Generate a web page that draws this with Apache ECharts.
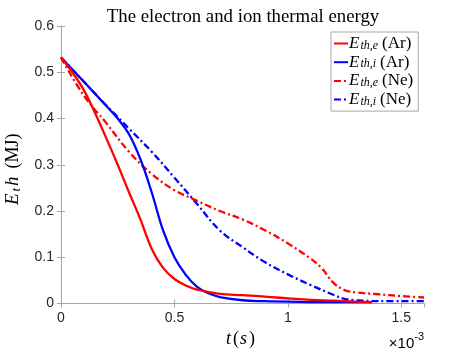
<!DOCTYPE html>
<html>
<head>
<meta charset="utf-8">
<script src="https://cdn.jsdelivr.net/npm/echarts@6/dist/echarts.min.js"></script>
<style>
  html, body { margin: 0; padding: 0; background: #fff; }
  #chart { width: 469px; height: 352px; }
</style>
</head>
<body>
<div id="chart"></div>
<script>
  // time in units of 1e-3 s, energy in MJ
  var arElectron = [[0,0.532],[0.05,0.5],[0.1,0.462],[0.15,0.412],[0.2,0.357],[0.25,0.3],[0.3,0.24],[0.35,0.182],[0.4,0.118],[0.45,0.077],[0.5,0.053],[0.55,0.039],[0.6,0.03],[0.7,0.021],[0.8,0.018],[0.9,0.015],[1.0,0.011],[1.1,0.008],[1.2,0.006],[1.3,0.004],[1.37,0.003]];
  var arIon = [[0,0.532],[0.1,0.48],[0.2,0.427],[0.25,0.4],[0.3,0.366],[0.35,0.312],[0.4,0.24],[0.45,0.158],[0.5,0.1],[0.55,0.062],[0.6,0.036],[0.65,0.022],[0.7,0.014],[0.8,0.007],[0.9,0.005],[1.0,0.004],[1.2,0.003],[1.37,0.003]];
  var neElectron = [[0,0.532],[0.1,0.45],[0.2,0.39],[0.3,0.328],[0.4,0.28],[0.5,0.245],[0.6,0.222],[0.7,0.2],[0.8,0.182],[0.9,0.158],[1.0,0.13],[1.1,0.097],[1.15,0.076],[1.2,0.045],[1.25,0.029],[1.3,0.024],[1.4,0.02],[1.5,0.016],[1.6,0.013]];
  var neIon = [[0,0.532],[0.1,0.48],[0.2,0.428],[0.3,0.378],[0.4,0.328],[0.5,0.272],[0.6,0.215],[0.7,0.158],[0.8,0.122],[0.9,0.089],[1.0,0.063],[1.1,0.04],[1.2,0.019],[1.25,0.01],[1.3,0.007],[1.4,0.005],[1.6,0.005]];

  var seriesNames = ['Eth,e (Ar)', 'Eth,i (Ar)', 'Eth,e (Ne)', 'Eth,i (Ne)'];
  var seriesSubs = ['th,e', 'th,i', 'th,e', 'th,i'];
  var seriesGas = ['Ar', 'Ar', 'Ne', 'Ne'];
  var seriesData = [arElectron, arIon, neElectron, neIon];
  var colors = ['#ff0000', '#0000ff', '#ff0000', '#0000ff'];
  var dashDot = [7, 3, 2, 3];
  var lineTypes = ['solid', 'solid', dashDot, dashDot];

  var mathFont = '"Liberation Serif", serif';
  var axisColor = '#a6a6a6';
  var labelColor = '#262626';

  var rich = {
    i: { fontFamily: mathFont, fontStyle: 'italic', fontSize: 17, color: '#000', lineHeight: 16, verticalAlign: 'middle' },
    s: { fontFamily: mathFont, fontStyle: 'italic', fontSize: 12, color: '#000', lineHeight: 16, verticalAlign: 'bottom', padding: [0, 4, 0, 1] },
    n: { fontFamily: mathFont, fontSize: 17, color: '#000', lineHeight: 16, verticalAlign: 'middle' }
  };

  var myChart = echarts.init(document.getElementById('chart'));

  var series = seriesData.map(function (d, k) {
    return {
      name: seriesNames[k],
      type: 'line',
      data: d,
      smooth: 0.4,
      showSymbol: false,
      symbol: 'none',
      color: colors[k],
      lineStyle: { width: 2.3, type: lineTypes[k], color: colors[k] },
      z: 10 - k
    };
  });

  var option = {
    animation: false,
    title: {
      text: 'The electron and ion thermal energy',
      left: 238, top: 3, textAlign: 'center',
      textStyle: { fontFamily: mathFont, fontWeight: 'normal', fontSize: 18.8, color: '#000' }
    },
    legend: {
      data: seriesNames,
      orient: 'vertical',
      left: 331, top: 32,
      backgroundColor: '#fff',
      borderColor: axisColor, borderWidth: 1,
      padding: [3, 5, 3, 2],
      itemWidth: 14, itemHeight: 14, itemGap: 1.7,
      itemStyle: { opacity: 0 },
      formatter: function (name) {
        var k = seriesNames.indexOf(name);
        return '{i|E}{s|' + seriesSubs[k] + '}{n|(' + seriesGas[k] + ')}';
      },
      textStyle: { rich: rich, padding: [0, 0, 0, -4] }
    },
    grid: { left: 61, right: 45, top: 26, bottom: 48.5, outerBoundsMode: 'none' },
    xAxis: [
      {
        type: 'value', min: 0, max: 1.6, interval: 0.5,
        name: '{i|t}{n|(}{i|s}{n|)}', nameLocation: 'middle', nameGap: 27,
        nameTextStyle: { rich: {
          i: { fontFamily: mathFont, fontStyle: 'italic', fontSize: 18, color: '#000', padding: [0, 2, 0, 1] },
          n: { fontFamily: mathFont, fontSize: 18, color: '#000' }
        }, padding: [0, 5, 0, 0] },
        axisLine: { lineStyle: { color: axisColor } },
        axisTick: { inside: true, length: 4, lineStyle: { color: axisColor } },
        axisLabel: { color: labelColor, fontSize: 14, fontFamily: 'Liberation Sans', margin: 8, showMaxLabel: false },
        splitLine: { show: false }
      },
      {
        type: 'value', min: 0, max: 1.6, interval: 0.5, position: 'top',
        axisLine: { lineStyle: { color: axisColor } },
        axisTick: { inside: true, length: 4, lineStyle: { color: axisColor } },
        axisLabel: { show: false },
        splitLine: { show: false }
      }
    ],
    yAxis: [
      {
        type: 'value', min: 0, max: 0.6, interval: 0.1,
        name: '{i|E}{s|t}{i|h}{n|(MJ)}', nameLocation: 'middle', nameGap: 38,
        nameTextStyle: { rich: {
          i: { fontFamily: mathFont, fontStyle: 'italic', fontSize: 19, color: '#000', lineHeight: 20, verticalAlign: 'middle', padding: [0, 1, 0, 0] },
          s: { fontFamily: mathFont, fontStyle: 'italic', fontSize: 13, color: '#000', lineHeight: 20, verticalAlign: 'bottom', padding: [0, 2, 0, 1] },
          n: { fontFamily: mathFont, fontSize: 18, color: '#000', lineHeight: 20, verticalAlign: 'middle', padding: [0, 9, 0, 7] }
        } },
        axisLine: { show: true, lineStyle: { color: axisColor } },
        axisTick: { show: true, inside: true, length: 4, lineStyle: { color: axisColor } },
        axisLabel: { color: labelColor, fontSize: 14, fontFamily: 'Liberation Sans', margin: 7 },
        splitLine: { show: false }
      },
      {
        type: 'value', min: 0, max: 0.6, interval: 0.1, position: 'right',
        axisLine: { show: true, lineStyle: { color: axisColor } },
        axisTick: { show: true, inside: true, length: 4, lineStyle: { color: axisColor } },
        axisLabel: { show: false },
        splitLine: { show: false }
      }
    ],
    graphic: [
      {
        type: 'text', right: 45, top: 331,
        style: {
          text: '{a|×10}{b|-3}',
          rich: {
            a: { fontFamily: 'Liberation Sans', fontSize: 15, color: labelColor, lineHeight: 20, verticalAlign: 'bottom' },
            b: { fontFamily: 'Liberation Sans', fontSize: 11, color: labelColor, lineHeight: 20, verticalAlign: 'top' }
          }
        }
      }
    ],
    series: series
  };

  myChart.setOption(option);
</script>
</body>
</html>
